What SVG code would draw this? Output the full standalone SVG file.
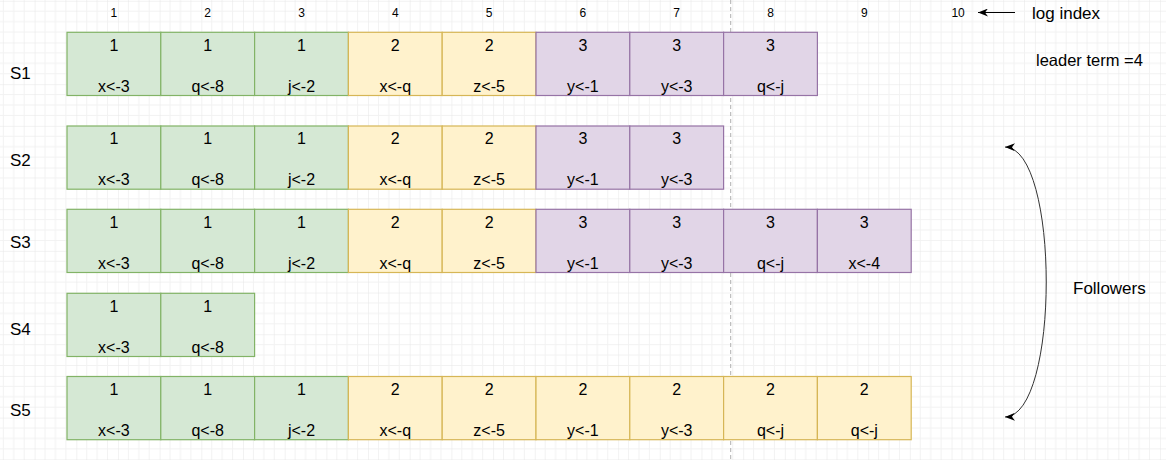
<svg xmlns="http://www.w3.org/2000/svg" width="1166" height="460" viewBox="0 0 1166 460">
<defs>
<pattern id="grid" x="34.6" y="0.8" width="41.68" height="41.68" patternUnits="userSpaceOnUse">
<path d="M10.42,0V41.68M20.84,0V41.68M31.26,0V41.68M0,10.42H41.68M0,20.84H41.68M0,31.26H41.68" stroke="#f2f2f2" stroke-width="1" fill="none"/>
<path d="M0,0V41.68M0,0H41.68" stroke="#e6e6e6" stroke-width="1" fill="none"/>
</pattern>
<marker id="arr" viewBox="0 0 10 8" refX="10" refY="4" markerWidth="10" markerHeight="8" markerUnits="userSpaceOnUse" orient="auto-start-reverse">
<path d="M0,0 L10,4 L0,8 L3,4 Z" fill="#000"/>
</marker>
</defs>
<style>
text{font-family:"Liberation Sans",Arial,Helvetica,sans-serif;fill:#000;}
.c rect{stroke-width:1.2;}
.g rect{fill:#d5e8d4;stroke:#82b366;}
.y rect{fill:#fff2cc;stroke:#d6b656;}
.p rect{fill:#e1d5e7;stroke:#9673a6;}
.c text{font-size:16px;text-anchor:middle;}
.idx{font-size:12px;text-anchor:middle;}
.row{font-size:17px;}
.lbl{font-size:16.5px;}
</style>
<rect width="1166" height="460" fill="#fff"/>
<rect width="1166" height="460" fill="url(#grid)"/>
<line x1="730.7" y1="0" x2="730.7" y2="460" stroke="#b0b0b0" stroke-width="1" stroke-dasharray="4 3"/>

<g id="indices">
<text class="idx" x="113.9" y="16.5">1</text>
<text class="idx" x="207.7" y="16.5">2</text>
<text class="idx" x="301.5" y="16.5">3</text>
<text class="idx" x="395.3" y="16.5">4</text>
<text class="idx" x="489.1" y="16.5">5</text>
<text class="idx" x="582.9" y="16.5">6</text>
<text class="idx" x="676.7" y="16.5">7</text>
<text class="idx" x="770.5" y="16.5">8</text>
<text class="idx" x="864.3" y="16.5">9</text>
<text class="idx" x="958.1" y="16.5">10</text>
</g>
<g id="log-index-label"><text class="lbl" x="1032" y="19" style="font-size:17px">log index</text></g>
<g id="leader-term"><text class="lbl" x="1036" y="66">leader term =4</text></g>
<g id="followers-label"><text class="lbl" x="1073" y="294" style="font-size:17px">Followers</text></g>

<g id="row-labels">
<text class="row" x="10" y="79">S1</text>
<text class="row" x="10" y="166">S2</text>
<text class="row" x="10" y="248">S3</text>
<text class="row" x="10" y="335">S4</text>
<text class="row" x="10" y="416">S5</text>
</g>

<!-- S1 row, top 32.3 -->
<g id="s1-1" class="c g"><rect x="67" y="32.3" width="93.8" height="63.2"/><text x="113.9" y="50.7">1</text><text x="113.9" y="91.5">x&lt;-3</text></g>
<g id="s1-2" class="c g"><rect x="160.8" y="32.3" width="93.8" height="63.2"/><text x="207.7" y="50.7">1</text><text x="207.7" y="91.5">q&lt;-8</text></g>
<g id="s1-3" class="c g"><rect x="254.6" y="32.3" width="93.8" height="63.2"/><text x="301.5" y="50.7">1</text><text x="301.5" y="91.5">j&lt;-2</text></g>
<g id="s1-4" class="c y"><rect x="348.4" y="32.3" width="93.8" height="63.2"/><text x="395.3" y="50.7">2</text><text x="395.3" y="91.5">x&lt;-q</text></g>
<g id="s1-5" class="c y"><rect x="442.2" y="32.3" width="93.8" height="63.2"/><text x="489.1" y="50.7">2</text><text x="489.1" y="91.5">z&lt;-5</text></g>
<g id="s1-6" class="c p"><rect x="536" y="32.3" width="93.8" height="63.2"/><text x="582.9" y="50.7">3</text><text x="582.9" y="91.5">y&lt;-1</text></g>
<g id="s1-7" class="c p"><rect x="629.8" y="32.3" width="93.8" height="63.2"/><text x="676.7" y="50.7">3</text><text x="676.7" y="91.5">y&lt;-3</text></g>
<g id="s1-8" class="c p"><rect x="723.6" y="32.3" width="93.8" height="63.2"/><text x="770.5" y="50.7">3</text><text x="770.5" y="91.5">q&lt;-j</text></g>

<!-- S2 row, top 126 -->
<g id="s2-1" class="c g"><rect x="67" y="126" width="93.8" height="63.2"/><text x="113.9" y="144.4">1</text><text x="113.9" y="185.2">x&lt;-3</text></g>
<g id="s2-2" class="c g"><rect x="160.8" y="126" width="93.8" height="63.2"/><text x="207.7" y="144.4">1</text><text x="207.7" y="185.2">q&lt;-8</text></g>
<g id="s2-3" class="c g"><rect x="254.6" y="126" width="93.8" height="63.2"/><text x="301.5" y="144.4">1</text><text x="301.5" y="185.2">j&lt;-2</text></g>
<g id="s2-4" class="c y"><rect x="348.4" y="126" width="93.8" height="63.2"/><text x="395.3" y="144.4">2</text><text x="395.3" y="185.2">x&lt;-q</text></g>
<g id="s2-5" class="c y"><rect x="442.2" y="126" width="93.8" height="63.2"/><text x="489.1" y="144.4">2</text><text x="489.1" y="185.2">z&lt;-5</text></g>
<g id="s2-6" class="c p"><rect x="536" y="126" width="93.8" height="63.2"/><text x="582.9" y="144.4">3</text><text x="582.9" y="185.2">y&lt;-1</text></g>
<g id="s2-7" class="c p"><rect x="629.8" y="126" width="93.8" height="63.2"/><text x="676.7" y="144.4">3</text><text x="676.7" y="185.2">y&lt;-3</text></g>

<!-- S3 row, top 209.3 -->
<g id="s3-1" class="c g"><rect x="67" y="209.3" width="93.8" height="63.2"/><text x="113.9" y="227.7">1</text><text x="113.9" y="268.5">x&lt;-3</text></g>
<g id="s3-2" class="c g"><rect x="160.8" y="209.3" width="93.8" height="63.2"/><text x="207.7" y="227.7">1</text><text x="207.7" y="268.5">q&lt;-8</text></g>
<g id="s3-3" class="c g"><rect x="254.6" y="209.3" width="93.8" height="63.2"/><text x="301.5" y="227.7">1</text><text x="301.5" y="268.5">j&lt;-2</text></g>
<g id="s3-4" class="c y"><rect x="348.4" y="209.3" width="93.8" height="63.2"/><text x="395.3" y="227.7">2</text><text x="395.3" y="268.5">x&lt;-q</text></g>
<g id="s3-5" class="c y"><rect x="442.2" y="209.3" width="93.8" height="63.2"/><text x="489.1" y="227.7">2</text><text x="489.1" y="268.5">z&lt;-5</text></g>
<g id="s3-6" class="c p"><rect x="536" y="209.3" width="93.8" height="63.2"/><text x="582.9" y="227.7">3</text><text x="582.9" y="268.5">y&lt;-1</text></g>
<g id="s3-7" class="c p"><rect x="629.8" y="209.3" width="93.8" height="63.2"/><text x="676.7" y="227.7">3</text><text x="676.7" y="268.5">y&lt;-3</text></g>
<g id="s3-8" class="c p"><rect x="723.6" y="209.3" width="93.8" height="63.2"/><text x="770.5" y="227.7">3</text><text x="770.5" y="268.5">q&lt;-j</text></g>
<g id="s3-9" class="c p"><rect x="817.4" y="209.3" width="93.8" height="63.2"/><text x="864.3" y="227.7">3</text><text x="864.3" y="268.5">x&lt;-4</text></g>

<!-- S4 row, top 293.3 -->
<g id="s4-1" class="c g"><rect x="67" y="293.3" width="93.8" height="63.2"/><text x="113.9" y="311.7">1</text><text x="113.9" y="352.5">x&lt;-3</text></g>
<g id="s4-2" class="c g"><rect x="160.8" y="293.3" width="93.8" height="63.2"/><text x="207.7" y="311.7">1</text><text x="207.7" y="352.5">q&lt;-8</text></g>

<!-- S5 row, top 376.5 -->
<g id="s5-1" class="c g"><rect x="67" y="376.5" width="93.8" height="63.2"/><text x="113.9" y="394.9">1</text><text x="113.9" y="435.7">x&lt;-3</text></g>
<g id="s5-2" class="c g"><rect x="160.8" y="376.5" width="93.8" height="63.2"/><text x="207.7" y="394.9">1</text><text x="207.7" y="435.7">q&lt;-8</text></g>
<g id="s5-3" class="c g"><rect x="254.6" y="376.5" width="93.8" height="63.2"/><text x="301.5" y="394.9">1</text><text x="301.5" y="435.7">j&lt;-2</text></g>
<g id="s5-4" class="c y"><rect x="348.4" y="376.5" width="93.8" height="63.2"/><text x="395.3" y="394.9">2</text><text x="395.3" y="435.7">x&lt;-q</text></g>
<g id="s5-5" class="c y"><rect x="442.2" y="376.5" width="93.8" height="63.2"/><text x="489.1" y="394.9">2</text><text x="489.1" y="435.7">z&lt;-5</text></g>
<g id="s5-6" class="c y"><rect x="536" y="376.5" width="93.8" height="63.2"/><text x="582.9" y="394.9">2</text><text x="582.9" y="435.7">y&lt;-1</text></g>
<g id="s5-7" class="c y"><rect x="629.8" y="376.5" width="93.8" height="63.2"/><text x="676.7" y="394.9">2</text><text x="676.7" y="435.7">y&lt;-3</text></g>
<g id="s5-8" class="c y"><rect x="723.6" y="376.5" width="93.8" height="63.2"/><text x="770.5" y="394.9">2</text><text x="770.5" y="435.7">q&lt;-j</text></g>
<g id="s5-9" class="c y"><rect x="817.4" y="376.5" width="93.8" height="63.2"/><text x="864.3" y="394.9">2</text><text x="864.3" y="435.7">q&lt;-j</text></g>

<g id="connectors" fill="none" stroke="#000" stroke-width="1">
<path d="M1015,12.5 L978,12.5" marker-end="url(#arr)"/>
<path d="M1005,147 C1060,148 1060,416 1005,417" stroke="#333" marker-start="url(#arr)" marker-end="url(#arr)"/>
</g>
</svg>
